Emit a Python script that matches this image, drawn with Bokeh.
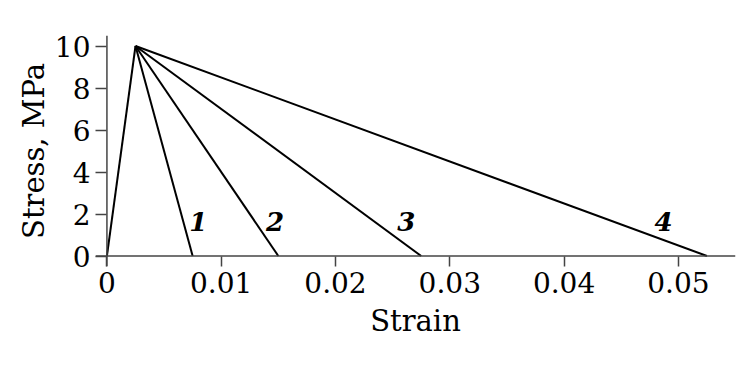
from bokeh.plotting import figure
from bokeh.models import ColumnDataSource, Range1d, FixedTicker, Span
from bokeh.core.properties import value
from bokeh.embed import file_html
from bokeh.resources import INLINE

# data
peak_strain = 0.0025
peak_stress = 10.0
end_strains = [0.0075, 0.015, 0.0275, 0.0525]
curve_labels = ["1", "2", "3", "4"]
label_x = [0.0080, 0.0147, 0.0262, 0.0487]
label_y = [1.64, 1.64, 1.64, 1.64]
x_ticks = [0, 0.01, 0.02, 0.03, 0.04, 0.05]
x_tick_labels = ["0", "0.01", "0.02", "0.03", "0.04", "0.05"]
y_ticks = [0, 2, 4, 6, 8, 10]

FONT = "DejaVu Serif"
AX_COLOR = "#444444"

p = figure(width=744, height=360, output_backend="svg", toolbar_location=None,
           x_range=Range1d(-0.001, 0.055), y_range=Range1d(-0.5, 10.5),
           min_border_left=95, min_border_right=9, min_border_top=35, min_border_bottom=94)
p.outline_line_color = None
p.grid.visible = False
p.background_fill_color = "white"

# axis lines through the origin
p.add_layout(Span(location=0, dimension="width", line_color=AX_COLOR, line_width=1.5))
p.add_layout(Span(location=0, dimension="height", line_color=AX_COLOR, line_width=1.5))

# loading branch
p.line([0, peak_strain], [0, peak_stress], line_color="black", line_width=2)
# softening branches
xs = [[peak_strain, e] for e in end_strains]
ys = [[peak_stress, 0] for _ in end_strains]
p.multi_line(xs=xs, ys=ys, line_color="black", line_width=2)

src = ColumnDataSource(dict(x=label_x, y=label_y, t=curve_labels))
p.text(x="x", y="y", text="t", source=src, text_font=value(FONT), text_font_style="bold italic",
       text_font_size="26px", text_align="center", text_baseline="middle", text_color="black")

for ax in (p.xaxis[0], p.yaxis[0]):
    ax.axis_line_color = None
    ax.major_tick_line_color = AX_COLOR
    ax.major_tick_line_width = 1.5
    ax.major_tick_out = 0
    ax.minor_tick_line_color = None
    ax.major_label_text_font = FONT
    ax.major_label_text_font_size = "28px"
    ax.major_label_text_color = "black"
    ax.axis_label_text_font = FONT
    ax.axis_label_text_font_size = "29px"
    ax.axis_label_text_font_style = "normal"
    ax.axis_label_text_color = "black"

p.xaxis.major_tick_in = 10
p.yaxis.major_tick_in = 11
p.xaxis.ticker = FixedTicker(ticks=x_ticks)
p.xaxis.major_label_overrides = {t: l for t, l in zip(x_ticks, x_tick_labels)}
p.yaxis.ticker = FixedTicker(ticks=y_ticks)
p.xaxis.axis_label = "Strain"
p.yaxis.axis_label = "Stress, MPa"
p.xaxis.major_label_standoff = 5
p.yaxis.major_label_standoff = 5
p.xaxis.axis_label_standoff = 8
p.yaxis.axis_label_standoff = 1

open("out.html", "w").write(file_html(p, INLINE))
